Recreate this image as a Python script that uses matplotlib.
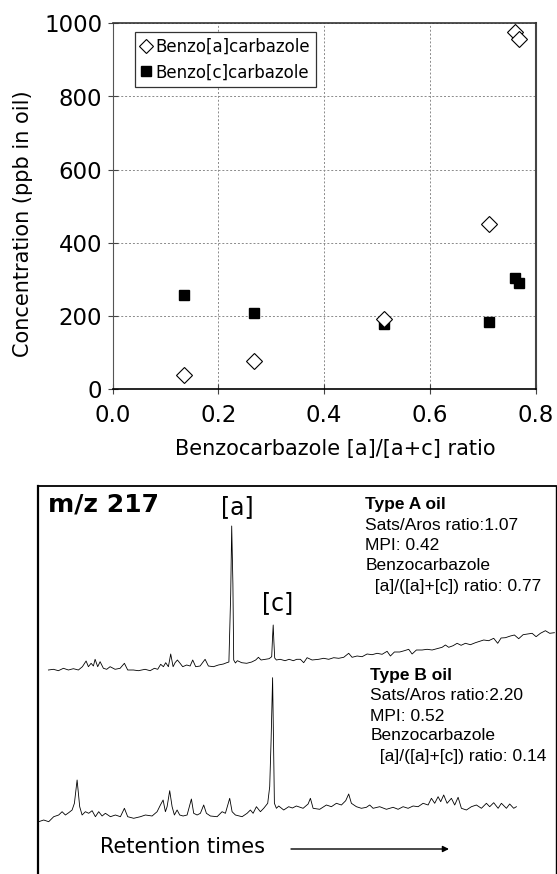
import matplotlib
matplotlib.use("Agg")
import matplotlib.pyplot as plt

# ---------------- data: scatter plot ----------------
ratio_a = [0.136, 0.268, 0.514, 0.712, 0.762, 0.768]
conc_a = [40, 77, 192, 452, 975, 958]
ratio_c = [0.136, 0.268, 0.513, 0.712, 0.762, 0.768]
conc_c = [258, 208, 178, 184, 305, 291]
series_labels = ["Benzo[a]carbazole", "Benzo[c]carbazole"]
x_ticks = [0.0, 0.2, 0.4, 0.6, 0.8]
y_ticks = [0, 200, 400, 600, 800, 1000]

# ---------------- data: m/z 217 chromatograms ----------------
rt_a = [10, 15, 20, 25, 30, 35, 40, 44, 47.7, 50, 52.7, 55, 56.7, 59.3, 61.7, 65, 68.3, 71.7,
        76.7, 81.7, 86, 89.3, 95, 100, 106.7, 111.7, 116, 119.3, 122.3, 125, 127.3, 130, 132.3,
        134.7, 136.7, 139, 141.7, 144.3, 148.3, 151.7, 154.3, 157.3, 161.7, 166.7, 170, 175, 180,
        185, 188.3, 190.5, 192.3, 193.3, 194.5, 195.3, 197, 199, 203.3, 208.3, 213.3, 217.3, 220,
        222.7, 226.7, 230.7, 233.3, 234.2, 234.8, 235.5, 236.3, 238, 241.7, 246.7, 250.7, 255,
        258.3, 262, 265.3, 268.7, 273.7, 280.3, 285.3, 290.3, 295.3, 300.3, 305.3, 310.3, 313.7,
        318.7, 323.7, 328.7, 333.7, 338.7, 343.7, 348.7, 352, 356, 361.3, 366, 370.3, 373.7, 378,
        383.7, 388.7, 393.7, 398.7, 403.7, 407, 410.3, 414.7, 418.7, 422.7, 427, 432, 437, 441.3,
        445.3, 450.3, 455.3, 459.3, 462.7, 467, 472, 476, 480.3, 484.7, 489.3, 493.7, 497.7, 502,
        507, 511.3, 516]
abund_a = [204, 204.7, 203.3, 205.7, 204, 205.3, 204, 207.3, 213, 207.3, 210.7, 208, 214.7, 207.3,
           212.3, 205.7, 204.7, 207.3, 204.7, 205.7, 210.7, 204, 204, 203.3, 204.7, 203.3, 205.7,
           204.7, 209.7, 207.3, 211.3, 207.3, 220, 207.3, 211.3, 214, 210.7, 207.3, 209, 208, 214,
           207.3, 208, 214.7, 208, 207.3, 209, 210, 211.3, 212, 280, 348, 290, 214, 211, 213.3,
           211.3, 210.7, 212, 214, 216.7, 214, 214.7, 215.3, 217.3, 238, 249, 232, 216, 214, 214.7,
           213.3, 214.7, 213.3, 214.7, 214.7, 211.3, 216.3, 214, 214.7, 215.7, 214.7, 216.3, 215.7,
           216.7, 220.7, 216.7, 218, 217.3, 220, 219.3, 220.7, 219.7, 222.7, 218, 222, 222, 223.3,
           224.7, 220, 224, 224, 224.7, 224, 225.3, 226.7, 229, 226.7, 228.3, 230.7, 228.7, 230.7,
           229.3, 231.3, 232.7, 234, 233.3, 235.7, 230.7, 236, 236.3, 238, 239, 235.3, 239.3, 240,
           240.7, 237.3, 240.7, 243.3, 240.7, 241.3]

rt_b = [0.3, 5.3, 10.3, 15.3, 20.3, 23.7, 27, 30.3, 33.7, 36, 38.7, 41.3, 43.7, 47, 50.3, 53.7,
        57, 60.3, 63.7, 67, 72, 77, 82, 86, 89.3, 95.3, 102, 107, 113.7, 118.7, 122, 124.7, 127,
        128.7, 131.3, 133.7, 136, 138.7, 141.3, 144.7, 148.7, 153, 155.3, 158.7, 162, 165.3, 168,
        172, 178.7, 183.7, 187, 191.3, 193.7, 197, 203.7, 208.7, 212, 214.7, 218, 222, 225.3,
        229.3, 231.3, 232.7, 234.2, 236, 238, 240.3, 245.3, 250.3, 254, 258, 264.7, 269.7, 272,
        274.7, 281.3, 288, 293, 298, 303, 307.3, 310.3, 313, 318, 323, 328, 331.3, 334.7, 341.3,
        348, 354.7, 359.7, 364.7, 369.7, 374.7, 379.7, 384.7, 389.7, 393, 396.3, 399.7, 402.3,
        405.3, 408.7, 413, 416.3, 419.7, 423, 428, 433, 438, 443, 448, 451.3, 455.3, 459.7, 463,
        468, 471.3, 475.3, 478]
abund_b = [52.3, 54, 52.3, 57.3, 59, 62.3, 59, 61.3, 64, 70.7, 94, 67.3, 59, 62.3, 60.7, 63.3,
           57.3, 62.3, 58, 60.7, 57.3, 59, 57.3, 65.7, 57.3, 55.7, 57.3, 59, 58, 62.3, 69, 74,
           62.3, 67.3, 83.3, 67.3, 59, 64, 59, 58, 59, 75, 60.7, 59, 60.7, 69, 60.7, 58, 57.3,
           62.3, 60.7, 75.7, 62.3, 59, 57.3, 60.7, 64, 60.7, 67.3, 62.3, 65.7, 70.7, 87.3, 134,
           196.3, 70.7, 65.7, 68, 64, 67.3, 66, 68, 65.7, 70, 75.7, 65.7, 64.7, 69, 67.3, 70.7,
           69, 73.3, 80, 70.7, 67.3, 65.7, 66.7, 69, 65.7, 67.3, 64.7, 66.7, 64.7, 67.3, 65.7, 68,
           67.3, 70.7, 69, 75.7, 70.7, 77.3, 72.3, 79, 70.7, 75.7, 69, 76.7, 65.7, 64, 67.3, 69,
           65.7, 70.7, 67.3, 71.3, 65.7, 70.7, 65.7, 70, 65.7, 67.3]

type_a_lines = ["Type A oil", "Sats/Aros ratio:1.07", "MPI: 0.42", "Benzocarbazole",
                "  [a]/([a]+[c]) ratio: 0.77"]
type_b_lines = ["Type B oil", "Sats/Aros ratio:2.20", "MPI: 0.52", "Benzocarbazole",
                "  [a]/([a]+[c]) ratio: 0.14"]

# ---------------- figure ----------------
W, H = 557, 874
fig = plt.figure(figsize=(W / 100, H / 100), dpi=100)
plt.rcParams['font.family'] = ['DejaVu Sans']

# scatter axes (pixel box: x 112.5..535.5, y 23.3..389.3)
ax = fig.add_axes([112.5 / W, 1 - 389.3 / H, 423 / W, 366 / H])
ax.set_xlim(0, 0.8)
ax.set_ylim(0, 1000)
ax.set_xticks(x_ticks)
ax.set_yticks(y_ticks)
ax.set_xticklabels([f"{v:.1f}" for v in x_ticks])
ax.set_yticklabels([str(v) for v in y_ticks])
ax.tick_params(axis='both', direction='inout', length=7, width=0.8, labelsize=16.5, color='#444444')
ax.tick_params(axis='x', pad=7)
ax.tick_params(axis='y', pad=4)
ax.grid(True, linestyle=(0, (2, 2)), color='#8a8a8a', linewidth=0.7)
for side, lw, col in [('left', 0.8, '#555555'), ('bottom', 1.2, 'black'),
                      ('top', 1.2, '#333333'), ('right', 1.5, '#444444')]:
    ax.spines[side].set_linewidth(lw)
    ax.spines[side].set_color(col)

ax.plot(ratio_c, conc_c, linestyle='none', marker='s', ms=7.8, color='black',
        label=series_labels[1], zorder=3)
ax.plot(ratio_a, conc_a, linestyle='none', marker='D', ms=8.6, mfc='white', mec='black',
        mew=0.8, label=series_labels[0], zorder=4)

handles, labels = ax.get_legend_handles_labels()
leg = ax.legend(handles[::-1], labels[::-1], loc='upper left',
                bbox_to_anchor=((134.8 - 112.5) / 423, (389.3 - 32) / 366),
                fontsize=12, frameon=True, fancybox=False, framealpha=1,
                edgecolor='#333333', borderpad=0.35, labelspacing=0.45,
                handlelength=0.6, handletextpad=0.3, borderaxespad=0,
                markerscale=0.85)
leg.get_frame().set_linewidth(0.9)

ax.set_xlabel("Benzocarbazole [a]/[a+c] ratio", fontsize=15)
ax.xaxis.set_label_coords((335 - 112.5) / 423, -(449 - 389.3) / 366)
ax.xaxis.label.set_va('center')
ax.set_ylabel("Concentration (ppb in oil)", fontsize=15)
ax.yaxis.set_label_coords((23 - 112.5) / 423, (389.3 - 224) / 366)
ax.yaxis.label.set_va('center')

# chromatogram panel (pixel box: x 38.4..556, y 486..874)
ax2 = fig.add_axes([38.4 / W, 0, (556 - 38.4) / W, 388 / H])
ax2.set_xlim(0, 517.6)
ax2.set_ylim(0, 388)
ax2.set_xticks([])
ax2.set_yticks([])
ax2.spines['bottom'].set_visible(False)
ax2.spines['top'].set_linewidth(1.3)
ax2.spines['left'].set_linewidth(1.6)
ax2.spines['right'].set_linewidth(1.0)

ax2.plot(rt_a, abund_a, color='black', lw=0.6)
ax2.plot(rt_b, abund_b, color='black', lw=0.6)

ax2.text(9.6, 369, "m/z 217", fontsize=18, fontweight='bold', ha='left', va='center')
ax2.text(198.9, 367, "[a]", fontsize=17, ha='center', va='center')
ax2.text(239.6, 271, "[c]", fontsize=17, ha='center', va='center')

sans = ['Liberation Sans', 'DejaVu Sans']
ya = [369.7, 349, 328.3, 308.3, 288]
for i, (txt, yy) in enumerate(zip(type_a_lines, ya)):
    ax2.text(326.8, yy, txt, fontsize=12.5, family=sans, ha='left', va='center',
             fontweight='bold' if i == 0 else 'normal')
yb = [198.3, 178, 157.3, 138, 118]
for i, (txt, yy) in enumerate(zip(type_b_lines, yb)):
    ax2.text(332.1, yy, txt, fontsize=12.5, family=sans, ha='left', va='center',
             fontweight='bold' if i == 0 else 'normal')

ax2.text(61.1, 27.3, "Retention times", fontsize=15, ha='left', va='center')
ax2.annotate('', xy=(410.6, 25), xytext=(252.6, 25),
             arrowprops=dict(arrowstyle='-|>', lw=1.0, color='black',
                             mutation_scale=9, shrinkA=0, shrinkB=0))

fig.savefig("out.png", dpi=100)
